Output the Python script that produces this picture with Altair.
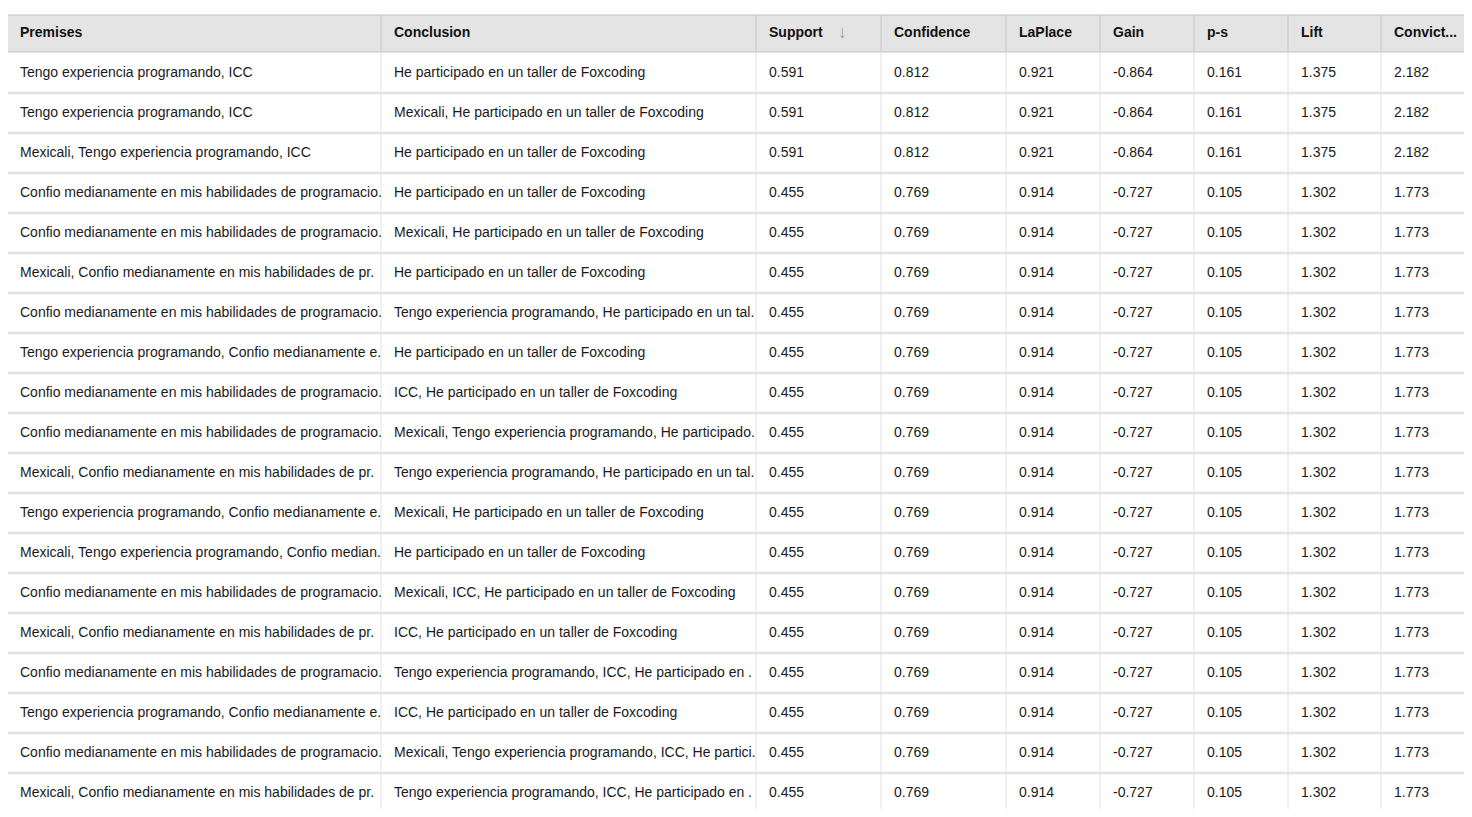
import altair as alt
import pandas as pd

headers = ["Premises", "Conclusion", "Support", "Confidence", "LaPlace", "Gain", "p-s", "Lift", "Convict..."]
# column left edges in chart pixels (page x minus 8px margin)
col_edges = [-1, 373, 748, 873, 998, 1092, 1186, 1280, 1373, 1470]

confio = "Confio medianamente en mis habilidades de programacion"
premises = [
    "Tengo experiencia programando, ICC",
    "Tengo experiencia programando, ICC",
    "Mexicali, Tengo experiencia programando, ICC",
    confio, confio,
    "Mexicali, " + confio,
    confio,
    "Tengo experiencia programando, " + confio,
    confio, confio,
    "Mexicali, " + confio,
    "Tengo experiencia programando, " + confio,
    "Mexicali, Tengo experiencia programando, " + confio,
    confio,
    "Mexicali, " + confio,
    confio,
    "Tengo experiencia programando, " + confio,
    confio,
    "Mexicali, " + confio,
]
he = "He participado en un taller de Foxcoding"
conclusions = [
    he, "Mexicali, " + he, he, he, "Mexicali, " + he, he,
    "Tengo experiencia programando, " + he, he, "ICC, " + he,
    "Mexicali, Tengo experiencia programando, " + he,
    "Tengo experiencia programando, " + he,
    "Mexicali, " + he, he, "Mexicali, ICC, " + he, "ICC, " + he,
    "Tengo experiencia programando, ICC, " + he, "ICC, " + he,
    "Mexicali, Tengo experiencia programando, ICC, " + he,
    "Tengo experiencia programando, ICC, " + he,
]
support = ["0.591"] * 3 + ["0.455"] * 16
confidence = ["0.812"] * 3 + ["0.769"] * 16
laplace = ["0.921"] * 3 + ["0.914"] * 16
gain = ["-0.864"] * 3 + ["-0.727"] * 16
ps = ["0.161"] * 3 + ["0.105"] * 16
lift = ["1.375"] * 3 + ["1.302"] * 16
conviction = ["2.182"] * 3 + ["1.773"] * 16

columns = [premises, conclusions, support, confidence, laplace, gain, ps, lift, conviction]
n = len(premises)

W, H = 1456, 801
xs = alt.Scale(domain=[0, W], nice=False, zero=False)
ys = alt.Scale(domain=[-65 / 40, (H - 65) / 40], nice=False, zero=False, reverse=True)


def X(f):
    return alt.X(f, type="quantitative", scale=xs, axis=None)


def Y(f):
    return alt.Y(f, type="quantitative", scale=ys, axis=None)


cells = []
for c, vals in enumerate(columns):
    for r, v in enumerate(vals):
        cells.append({"row": r, "x": col_edges[c] + 13, "text": v, "col": c})
cells = pd.DataFrame(cells)
hdr = pd.DataFrame({"row": -1.0, "x": [e + 13 for e in col_edges[:-1]], "text": headers})
band = pd.DataFrame({"x": [col_edges[0]], "x2": [W + 5], "y": [-1.45], "y2": [-0.525]})
hlines = pd.DataFrame({"y": [r + 0.5 for r in range(n)], "x": 0, "x2": W})
vbody = pd.DataFrame({"x": col_edges[:-1], "y": -0.525, "y2": 20})
vhead = pd.DataFrame({"x": col_edges[:-1], "y": -1.45, "y2": -0.525})

header_rect = alt.Chart(band).mark_rect(fill="#e4e4e4", stroke="#c2c2c2", strokeWidth=1).encode(
    x=X("x"), x2="x2", y=Y("y"), y2="y2")
v_body = alt.Chart(vbody).mark_rule(color="#e2e2e2", strokeWidth=1).encode(
    x=X("x"), y=Y("y"), y2="y2")
v_head = alt.Chart(vhead).mark_rule(color="#c6c6c6", strokeWidth=1).encode(
    x=X("x"), y=Y("y"), y2="y2")
h_rows = alt.Chart(hlines).mark_rule(color="#e2e2e2", strokeWidth=2.5).encode(
    y=Y("y"), x=X("x"), x2="x2")

text_kw = dict(align="left", baseline="middle", font="Liberation Sans", fontSize=14)
wide = alt.Chart(cells).transform_filter("datum.col < 2").mark_text(
    color="#1a1a1a", limit=362, ellipsis=".", **text_kw).encode(x=X("x"), y=Y("row"), text="text:N")
nums = alt.Chart(cells).transform_filter("datum.col >= 2").mark_text(
    color="#1a1a1a", **text_kw).encode(x=X("x"), y=Y("row"), text="text:N")
head_txt = alt.Chart(hdr).mark_text(color="#111111", fontWeight="bold", **text_kw).encode(
    x=X("x"), y=Y("row"), text="text:N")
arrow_df = pd.DataFrame({"x": [col_edges[2] + 82], "row": [-1.0], "t": ["\u2193"]})
arrow = alt.Chart(arrow_df).mark_text(
    color="#999999", fontWeight="bold", align="left", baseline="middle",
    font="Liberation Sans", fontSize=17).encode(x=X("x"), y=Y("row"), text="t:N")

chart = alt.layer(header_rect, v_body, v_head, h_rows, wide, nums, head_txt, arrow).properties(
    width=W, height=H, padding=0, autosize=alt.AutoSizeParams(type="none")
).configure_view(stroke=None, clip=True)

chart.save("out.html", embed_options={"renderer": "svg", "actions": False})
